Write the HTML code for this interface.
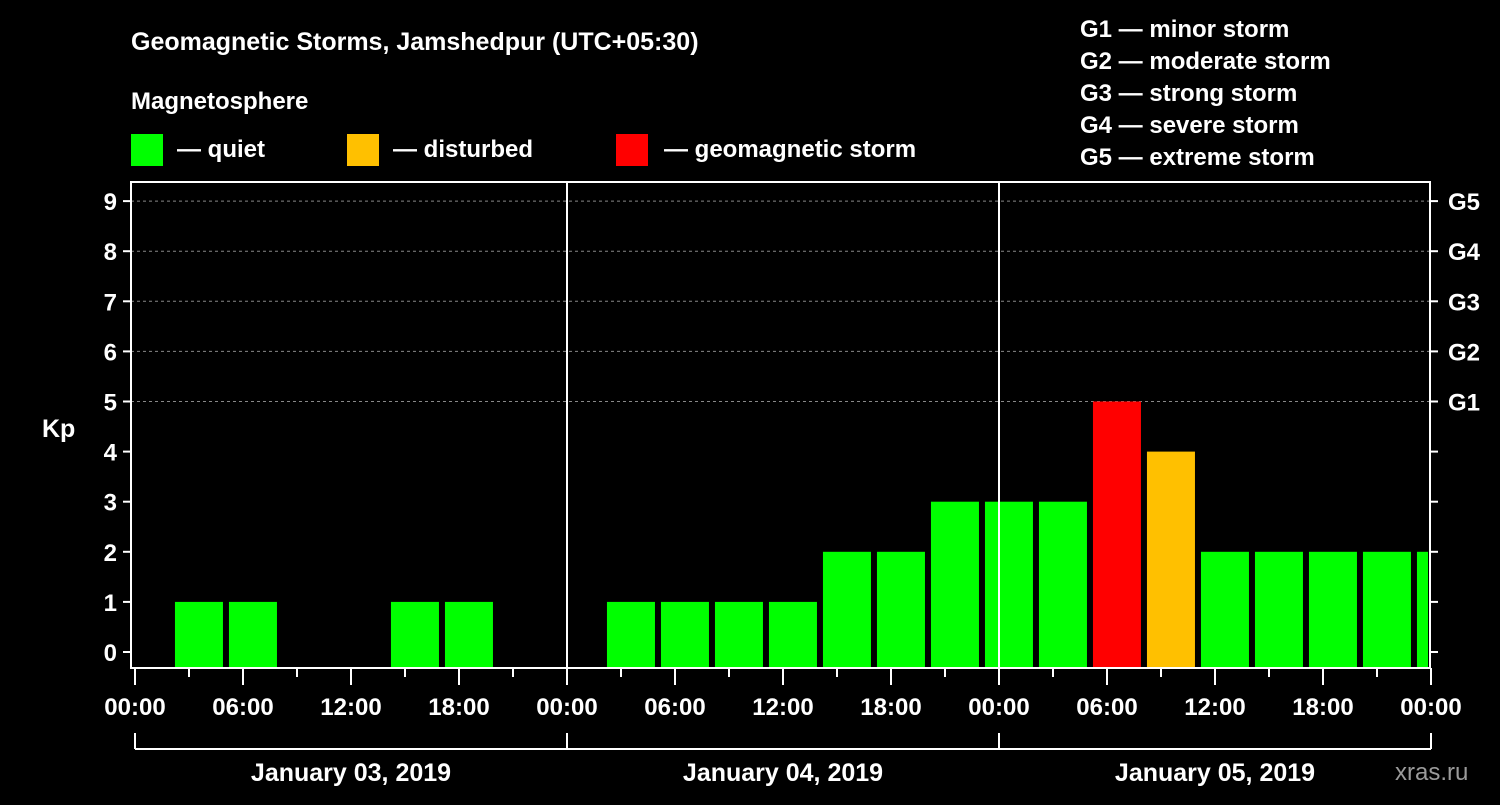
<!DOCTYPE html>
<html><head><meta charset="utf-8"><style>
body{margin:0;background:#000;width:1500px;height:800px;overflow:hidden}
svg text{font-family:"Liberation Sans",sans-serif;font-weight:bold;fill:#fff}
</style></head><body>
<svg id="c" width="1500" height="800">
<text x="131" y="50" font-size="25">Geomagnetic Storms, Jamshedpur (UTC+05:30)</text>
<text x="131" y="109" font-size="24">Magnetosphere</text>
<g><rect x="131" y="134" width="32" height="32" fill="#00ff00"/><text x="177" y="157" font-size="24">— quiet</text></g>
<g><rect x="347" y="134" width="32" height="32" fill="#ffc000"/><text x="393" y="157" font-size="24">— disturbed</text></g>
<g><rect x="616" y="134" width="32" height="32" fill="#ff0000"/><text x="664" y="157" font-size="24">— geomagnetic storm</text></g>
<g font-size="24">
<text x="1080" y="37">G1 — minor storm</text><text x="1080" y="69">G2 — moderate storm</text><text x="1080" y="101">G3 — strong storm</text><text x="1080" y="133">G4 — severe storm</text><text x="1080" y="165">G5 — extreme storm</text></g>
<text x="42" y="437" font-size="25">Kp</text>
<text x="1395" y="780" font-size="24" fill="#888" style="fill:#9a9a9a;font-weight:normal">xras.ru</text>
<g id="plot"></g>
</svg>
<script>
const kpValues=[1,1,0,0,1,1,0,0, 1,1,1,1,2,2,3,3, 3,5,4,2,2,2,2,2];
const dayLabels=["January 03, 2019","January 04, 2019","January 05, 2019"];
const timeLabels=["00:00","06:00","12:00","18:00"];
const gLabels=["G1","G2","G3","G4","G5"];
const NS="http://www.w3.org/2000/svg";
const g=document.getElementById('plot');
const L=131,R=1430,T=182,B=668,x0=135,dayW=432;
const xs=h=>x0+h*dayW/24;
const ys=k=>652-k*50.1;
function mk(t,a,p){const e=document.createElementNS(NS,t);for(const k in a)e.setAttribute(k,a[k]);(p||g).appendChild(e);return e;}
// grid
for(let k=5;k<=9;k++){const e=mk('line',{x1:L,x2:R,y1:ys(k),y2:ys(k),stroke:'#888','stroke-dasharray':'3,3','stroke-width':1});

}
// bars
kpValues.forEach((v,i)=>{if(v<=0)return;
const h0=2.22+3*i;const x=xs(h0);let w=48;if(x+w>R-2)w=R-2-x;
const c=v>=5?'#ff0000':v>=4?'#ffc000':'#00ff00';
const r=mk('rect',{x:x,y:ys(v),width:w,height:B-ys(v),fill:c});

});
// day separators
for(let d=1;d<3;d++){const e=mk('line',{x1:xs(24*d),x2:xs(24*d),y1:T,y2:B,stroke:'#fff','stroke-width':2});

}
// frame
const f=mk('rect',{x:L,y:T,width:R-L,height:B-T,fill:'none',stroke:'#fff','stroke-width':2});


// y ticks
for(let k=0;k<=9;k++){const y=ys(k);
mk('line',{x1:L-8,x2:L,y1:y,y2:y,stroke:'#fff','stroke-width':2});
mk('line',{x1:R,x2:R+8,y1:y,y2:y,stroke:'#fff','stroke-width':2});
const t=mk('text',{x:L-14,y:y+9,'font-size':24,'text-anchor':'end'});t.textContent=k;


if(k>=5){const t2=mk('text',{x:R+18,y:y+9,'font-size':24});t2.textContent=gLabels[k-5];

}}
// x ticks
for(let h=0;h<=72;h+=3){const x=xs(h);const major=h%6==0;
mk('line',{x1:x,x2:x,y1:B,y2:B+(major?17:9),stroke:'#fff','stroke-width':2});
if(major){const t=mk('text',{x:x,y:715,'font-size':24,'text-anchor':'middle'});t.textContent=timeLabels[(h/6)%4];

}}
// day brackets
mk('line',{x1:xs(0),x2:xs(72),y1:749,y2:749,stroke:'#fff','stroke-width':2});
for(let d=0;d<=3;d++)mk('line',{x1:xs(24*d),x2:xs(24*d),y1:733,y2:749,stroke:'#fff','stroke-width':2});
dayLabels.forEach((s,d)=>{const t=mk('text',{x:xs(24*d+12),y:781,'font-size':25,'text-anchor':'middle'});t.textContent=s;

});
</script>
</body></html>
